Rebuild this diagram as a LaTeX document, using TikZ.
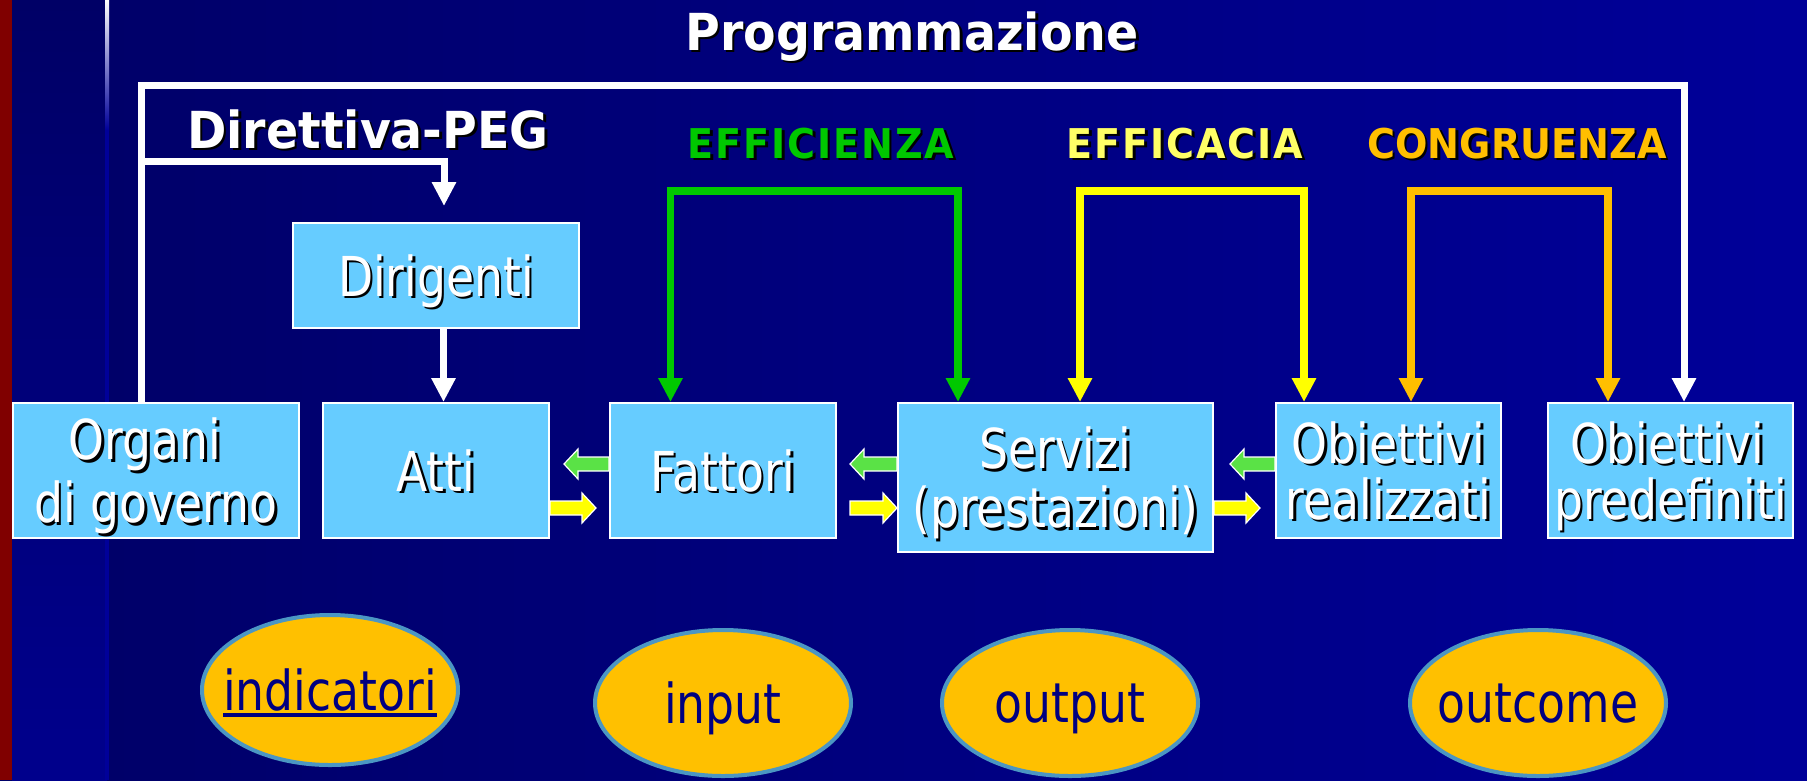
\documentclass[tikz,border=0pt]{standalone}
\usepackage{fontspec}
\setmainfont{DejaVu Sans}[FakeStretch=0.83]
\newfontfamily\headfont{DejaVu Sans}[FakeStretch=0.93]
\usepackage{xcolor}
\definecolor{bgdark}{RGB}{0,0,102}
\definecolor{bglight}{RGB}{0,0,153}
\definecolor{redbar}{RGB}{128,0,0}
\definecolor{boxblue}{RGB}{102,204,255}
\definecolor{greeen}{RGB}{0,200,0}
\definecolor{lightgreen}{RGB}{90,226,70}
\definecolor{yelow}{RGB}{255,255,0}
\definecolor{paleyellow}{RGB}{255,255,102}
\definecolor{amber}{RGB}{255,191,0}
\definecolor{ovalfill}{RGB}{255,192,0}
\definecolor{ovaledge}{RGB}{75,150,195}
\definecolor{navy}{RGB}{0,0,128}
\usetikzlibrary{arrows.meta,positioning,calc,shapes.geometric}

\newcommand\shd[1]{\rlap{\kern2.5pt\raisebox{-2.5pt}{\color{black}#1}}#1}
\newsavebox\undlbox
\newcommand\undl[1]{\sbox\undlbox{#1}\rlap{\rule[-6pt]{\wd\undlbox}{3.5pt}}\usebox\undlbox}

\begin{document}
\begin{tikzpicture}[x=1pt,y=-1pt,>={Triangle[width=23pt,length=24pt]},line join=miter]
        \tikzstyle{box}=[draw=white,line width=2pt,fill=boxblue,text=white,inner sep=0pt,
                         align=center,text depth=0pt,font=\fontsize{55pt}{63pt}\selectfont]
        \tikzstyle{oval}=[ellipse,draw=ovaledge,line width=4pt,fill=ovalfill,text=navy,inner sep=0pt,
                          text depth=0pt,minimum width=256pt,minimum height=146pt,font=\fontsize{55pt}{63pt}\selectfont]
        \tikzstyle{head}=[font=\headfont\bfseries\fontsize{51pt}{60pt}\selectfont,text=white,anchor=base,inner sep=0pt]
        \tikzstyle{crit}=[font=\headfont\bfseries\fontsize{41pt}{48pt}\selectfont,anchor=base,inner sep=0pt]
        \tikzstyle{wline}=[draw=white,line width=7pt]
        \tikzstyle{gline}=[draw=greeen,line width=7.5pt]
        \tikzstyle{yline}=[draw=yelow,line width=7.5pt]
        \tikzstyle{oline}=[draw=amber,line width=7.5pt]
        \tikzset{fat/.style 2 args={draw=white,line width=1.2pt,to path={
            let \p1=($(\tikztostart)!#1!(\tikztotarget)$), \p2=($(\tikztotarget)!#2!(\tikztostart)$),
                \p3=($(\p2)!14pt!(\p1)$) in
            (\x1,\y1+7pt) -- (\x3,\y1+7pt) -- (\x3,\y1+15pt) -- (\x2,\y1)
            -- (\x3,\y1-15pt) -- (\x3,\y1-7pt) -- (\x1,\y1-7pt) -- cycle}}}

        \useasboundingbox (0,0) rectangle (1807,780);
        \fill[left color=bgdark,right color=bglight] (0,0) rectangle (1807,780);
        \fill[top color=bgdark,bottom color={rgb,255:red,0;green,0;blue,140}] (12,0) rectangle (107,780);
        \fill[redbar] (0,0) rectangle (12,780);
        \fill[top color=white,middle color={rgb,255:red,0;green,90;blue,255},bottom color=bglight] (105,0) rectangle (109,130);
        \fill[bglight] (105,130) rectangle (109,780);

        \node[box,minimum width=286pt,minimum height=135pt] (organi) at (156,470.5) {\shd{Organi}\kern22pt\\\shd{di governo}};
        \node[box,minimum width=226pt,minimum height=135pt,right=22pt of organi] (atti) {\shd{Atti}};
        \node[box,minimum width=226pt,minimum height=135pt,right=59pt of atti] (fattori) {\shd{Fattori}};
        \node[box,minimum width=315pt,minimum height=149pt,font=\fontsize{55pt}{59pt}\selectfont,
              right=60pt of fattori.north east,anchor=north west] (servizi) {\shd{Servizi}\\\shd{(prestazioni)}};
        \node[box,minimum width=225pt,minimum height=135pt,font=\fontsize{55pt}{56pt}\selectfont,
              right=61pt of servizi.north east,anchor=north west] (realizzati) {\shd{Obiettivi}\\\shd{realizzati}};
        \node[box,minimum width=245pt,minimum height=135pt,font=\fontsize{55pt}{56pt}\selectfont,
              right=45pt of realizzati] (predef) {\shd{Obiettivi}\kern6pt\\\shd{predefiniti}};
        \node[box,minimum width=286pt,minimum height=105pt,above=73pt of atti] (dirigenti) {\shd{Dirigenti}};

        \node[oval,below=89pt of fattori] (input) {\makebox[0pt]{input}};
        \node[oval,right=87pt of input] (output) {\makebox[0pt]{output}};
        \node[oval,right=208pt of output] (outcome) {\makebox[0pt]{outcome}};
        \node[oval,minimum height=150pt,left=133pt of input,yshift=13pt] (indicatori) {\makebox[0pt]{\undl{indicatori}}};

        \node[head] (prog) at (912,50) {\shd{Programmazione}};
        \node[head] (peg) at (368,148) {\shd{Direttiva-PEG}};
        \node[crit,text=greeen] (efficienza) at (821,158) {\addfontfeatures{LetterSpace=4.5}\shd{EFFICIENZA}};
        \node[crit,text=paleyellow] (efficacia) at (1185,158) {\addfontfeatures{LetterSpace=4.5}\shd{EFFICACIA}};
        \node[crit,text=amber] (congruenza) at (1517,158) {\shd{CONGRUENZA}};

        \coordinate (progtop) at (900,85);
        \coordinate (pegstart) at (141,161);
        \coordinate (effbar) at ([yshift=-33pt]efficienza.base);
        \coordinate (efcbar) at ([yshift=-33pt]efficacia.base);
        \coordinate (conbar) at ([yshift=-33pt]congruenza.base);
        \coordinate (grow) at (0,464);
        \coordinate (yrow) at (0,508);

        \draw[wline,->] ([xshift=-15pt]organi.north) |- (progtop) -| ([xshift=13.5pt]predef.north);
        \draw[wline,->,shorten >=16pt] (pegstart) -| ([xshift=8pt]dirigenti.north);
        \draw[wline,->] ([xshift=7.5pt]dirigenti.south) -- ([xshift=7.5pt]atti.north);

        \draw[gline,<->] ([xshift=-52.5pt]fattori.north) |- (effbar) -| ([xshift=-97.5pt]servizi.north);
        \draw[yline,<->] ([xshift=24.5pt]servizi.north) |- (efcbar) -| ([xshift=-84.5pt]realizzati.north);
        \draw[oline,<->] ([xshift=22.5pt]realizzati.north) |- (conbar) -| ([xshift=-62.5pt]predef.north);

        \draw[fat={0pt}{14pt},fill=lightgreen] (fattori.west |- grow) to (atti.east |- grow);
        \draw[fat={0pt}{13pt},fill=lightgreen] (servizi.west |- grow) to (fattori.east |- grow);
        \draw[fat={0pt}{16pt},fill=lightgreen] (realizzati.west |- grow) to (servizi.east |- grow);
        \draw[fat={0pt}{13pt},fill=yelow] (atti.east |- yrow) to (fattori.west |- yrow);
        \draw[fat={13pt}{0pt},fill=yelow] (fattori.east |- yrow) to (servizi.west |- yrow);
        \draw[fat={0pt}{15pt},fill=yelow] (servizi.east |- yrow) to (realizzati.west |- yrow);
    \end{tikzpicture}
\end{document}
